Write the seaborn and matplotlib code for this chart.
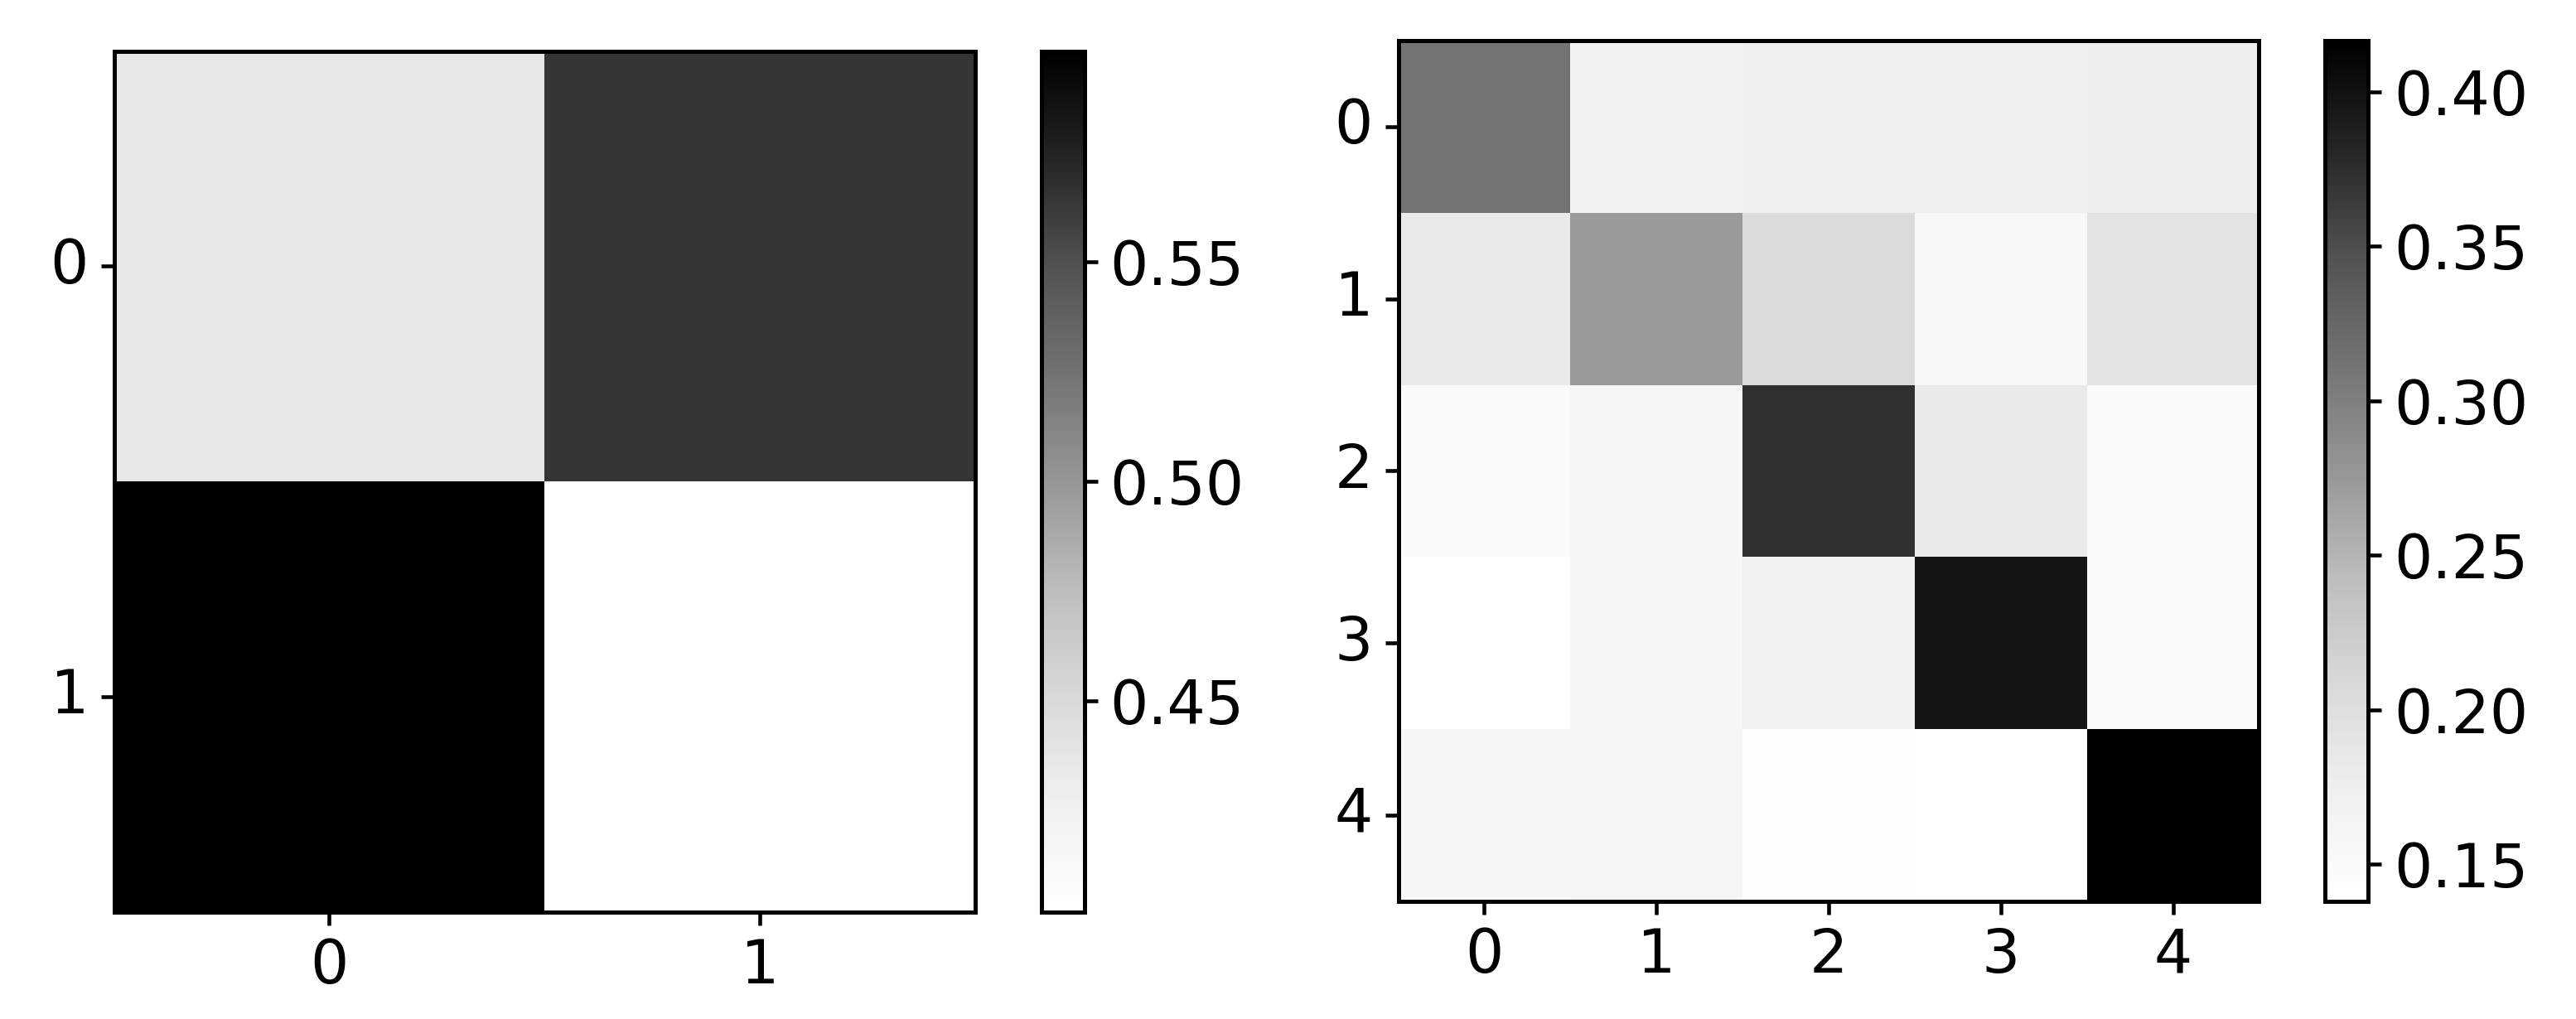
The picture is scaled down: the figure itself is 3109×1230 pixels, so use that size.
import numpy as np
import pandas as pd
import matplotlib
matplotlib.use("Agg")
import matplotlib.pyplot as plt
import seaborn as sns

# ---- data ----
labels2 = ["0", "1"]
row2_0 = [0.436, 0.565]
row2_1 = [0.598, 0.402]

labels5 = ["0", "1", "2", "3", "4"]
row5_0 = [0.312, 0.168, 0.173, 0.173, 0.176]
row5_1 = [0.182, 0.273, 0.205, 0.154, 0.193]
row5_2 = [0.150, 0.159, 0.373, 0.182, 0.150]
row5_3 = [0.138, 0.157, 0.170, 0.396, 0.150]
row5_4 = [0.157, 0.159, 0.143, 0.139, 0.4166]

df2 = pd.DataFrame([row2_0, row2_1], index=labels2, columns=labels2)
df5 = pd.DataFrame([row5_0, row5_1, row5_2, row5_3, row5_4], index=labels5, columns=labels5)

plt.rcParams['font.family'] = ['DejaVu Sans']
FS = 17.5
LW = 1.2

fig = plt.figure(figsize=(3109 / 300, 1230 / 300), dpi=300)

ax1 = fig.add_axes([0.04423, 0.10528, 0.33419, 0.84472])
cax1 = fig.add_axes([0.40415, 0.10528, 0.016726, 0.84472])
ax2 = fig.add_axes([0.54278, 0.11545, 0.33419, 0.84472])
cax2 = fig.add_axes([0.90270, 0.11545, 0.016726, 0.84472])

for ax, cax, df in [(ax1, cax1, df2), (ax2, cax2, df5)]:
    sns.heatmap(df, ax=ax, cbar_ax=cax, cmap="Greys", square=True,
                linewidths=0, cbar=True)
    for s in ax.spines.values():
        s.set_visible(True)
        s.set_linewidth(LW)
        s.set_color("black")
    ax.tick_params(axis="both", length=3.8, width=1.1, labelsize=FS,
                   colors="black")
    ax.set_yticklabels(ax.get_yticklabels(), rotation=0, va="center")
    ax.set_xticklabels(ax.get_xticklabels(), rotation=0)
    ax.set_xlabel("")
    ax.set_ylabel("")
    cb = ax.collections[0].colorbar
    cb.outline.set_visible(True)
    cb.outline.set_linewidth(LW)
    cb.outline.set_edgecolor("black")
    cax.tick_params(length=3.8, width=1.1, labelsize=FS)

fig.savefig("out.png", dpi=300)
